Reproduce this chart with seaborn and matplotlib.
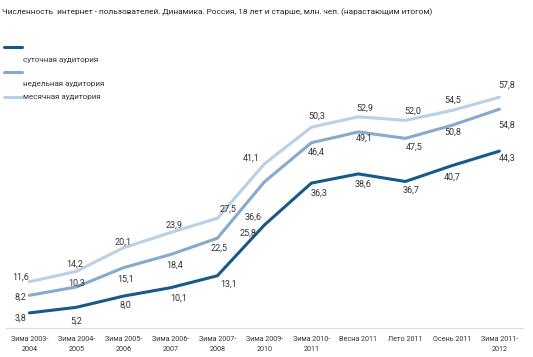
import matplotlib
matplotlib.use("Agg")
import matplotlib.pyplot as plt
import seaborn as sns
import pandas as pd
from matplotlib.lines import Line2D

# ===== Data =====
periods = ["Зима 2003-\n2004", "Зима 2004-\n2005", "Зима 2005-\n2006", "Зима 2006-\n2007",
           "Зима 2007-\n2008", "Зима 2009-\n2010", "Зима 2010-\n2011", "Весна 2011",
           "Лето 2011", "Осень 2011", "Зима 2011-\n2012"]
daily = [3.8, 5.2, 8.0, 10.1, 13.1, 25.8, 36.3, 38.6, 36.7, 40.7, 44.3]
weekly = [8.2, 10.3, 15.1, 18.4, 22.5, 36.6, 46.4, 49.1, 47.5, 50.8, 54.8]
monthly = [11.6, 14.2, 20.1, 23.9, 27.5, 41.1, 50.3, 52.9, 52.0, 54.5, 57.8]
series_names = ["суточная аудитория", "недельная аудитория", "месячная аудитория"]

title = "Численность  интернет - пользователей. Динамика. Россия, 18 лет и старше, млн. чел. (нарастающим итогом)"

# ===== Style =====
colors = ["#175a88", "#87a9cc", "#b9d0e6"]
# label offsets in pixels (dx, dy) per point
offs_daily = [(-9, -5), (0, -14), (2, -9), (8, -10), (11, -8), (-16, -8), (8, -10), (5, -10), (6, -9), (0, -12), (8, -7)]
offs_weekly = [(-9, -2), (0, 4), (2, -11), (4, -11), (2, -10), (-11, -35), (5, -9), (6, -6), (9, -9), (0, -7), (7, -16)]
offs_monthly = [(-9, 5), (-2, 7), (0, 6), (4, 7), (11, 9), (-13, 6), (5, 11), (6, 9), (7, 9), (0, 10), (7, 12)]

df = pd.DataFrame({
    "period": periods * 3,
    "value": daily + weekly + monthly,
    "series": [series_names[0]] * 11 + [series_names[1]] * 11 + [series_names[2]] * 11,
})

sns.set_style("white")
plt.rcParams["font.family"] = ["Roboto", "DejaVu Sans"]

W, H = 533, 357
fig = plt.figure(figsize=(W / 100, H / 100), dpi=100)
ax = fig.add_axes([0.011, 0.081, 0.970, 0.80])

sns.lineplot(data=df, x="period", y="value", hue="series", palette=colors,
             sort=False, linewidth=2.2, legend=False, ax=ax)

# data labels
for vals, offs in [(daily, offs_daily), (weekly, offs_weekly), (monthly, offs_monthly)]:
    for i, (v, (dx, dy)) in enumerate(zip(vals, offs)):
        ax.annotate(f"{v:.1f}".replace(".", ","), (i, v), xytext=(dx * 0.72, dy * 0.72),
                    textcoords="offset points", ha="center", va="center",
                    fontsize=6.5, color="#333333")

ax.set_xlim(-0.5, len(periods) - 0.5)
ax.set_ylim(0, 71.5)
ax.set_xlabel("")
ax.set_ylabel("")
ax.set_yticks([])
ax.set_xticks(range(len(periods)))
ax.set_xticklabels(periods, fontsize=5.2, color="#333333", linespacing=1.5)
ax.set_xticks([i - 0.5 for i in range(len(periods) + 1)], minor=True)
ax.tick_params(axis="x", which="major", length=0, pad=6)
ax.tick_params(axis="x", which="minor", length=3, color="#dddddd", direction="in")
for side in ["top", "right", "left"]:
    ax.spines[side].set_visible(False)
ax.spines["bottom"].set_color("#d9d9d9")
ax.spines["bottom"].set_linewidth(0.8)

# legend (drawn by hand to keep the original's offset layout)
leg_line_y = [47, 72, 97]
leg_text_y = [60, 84, 97]
for c, name, ly, ty in zip(colors, series_names, leg_line_y, leg_text_y):
    fig.add_artist(Line2D([4 / W, 22 / W], [1 - ly / H, 1 - ly / H], color=c, linewidth=2.2,
                          transform=fig.transFigure))
    fig.text(23 / W, 1 - ty / H, name, fontsize=5.8, color="#333333", ha="left", va="center")

fig.text(0.004, 0.965, title, fontsize=5.95, color="#222222", ha="left", va="center")

plt.savefig("out.png", dpi=100)
